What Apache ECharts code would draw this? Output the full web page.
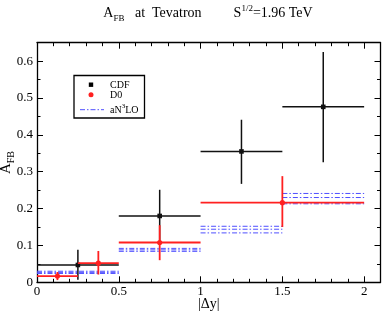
<!DOCTYPE html>
<html><head><meta charset="utf-8">
<script src="https://cdn.jsdelivr.net/npm/echarts@6/dist/echarts.min.js"></script>
<style>html,body{margin:0;padding:0;background:#fff}#c{width:382px;height:312px}</style>
</head><body><div id="c"></div>
<script>
const FONT = '"Liberation Serif", "DejaVu Serif", serif';

// CDF data
const cdfBinLo = [0, 0.5, 1.0, 1.5];
const cdfBinHi = [0.5, 1.0, 1.5, 2.0];
const cdfCenter = [0.25, 0.75, 1.25, 1.75];
const cdfValue = [0.047, 0.180, 0.355, 0.476];
const cdfLow = [0.007, 0.109, 0.267, 0.326];
const cdfHigh = [0.088, 0.251, 0.441, 0.625];

// D0 data
const d0BinLo = [0, 0.25, 0.5, 1.0];
const d0BinHi = [0.25, 0.5, 1.0, 2.0];
const d0Center = [0.125, 0.375, 0.75, 1.5];
const d0Value = [0.017, 0.052, 0.108, 0.216];
const d0Low = [0.006, 0.021, 0.060, 0.150];
const d0High = [0.028, 0.085, 0.155, 0.288];

// aN3LO theory band
const thBinLo = [0, 0.5, 1.0, 1.5];
const thBinHi = [0.5, 1.0, 1.5, 2.0];
const thLower = [0.024, 0.084, 0.134, 0.213];
const thCentral = [0.027, 0.088, 0.144, 0.230];
const thUpper = [0.030, 0.092, 0.152, 0.241];

const xTickLabels = ['0', '0.5', '1', '1.5', '2'];
const yTickLabels = ['0', '0.1', '0.2', '0.3', '0.4', '0.5', '0.6'];

const X_MIN = 0, X_MAX = 2.1, X_MAJOR = 0.5, X_MINOR = 0.1;
const Y_MIN = 0, Y_MAX = 0.65, Y_MAJOR = 0.1, Y_MINOR = 0.05;

function labelFrom(list, step) {
  return function (v) {
    const i = Math.round(v / step);
    if (Math.abs(v - i * step) > 1e-6 || i >= list.length) return '';
    return list[i];
  };
}

function errorBarItem(color, width, marker) {
  return function (params, api) {
    const xl = api.value(0), xh = api.value(1), xc = api.value(2);
    const y = api.value(3), yl = api.value(4), yh = api.value(5);
    const a = api.coord([xl, y]), b = api.coord([xh, y]);
    const c = api.coord([xc, y]), d = api.coord([xc, yl]), e = api.coord([xc, yh]);
    const st = { stroke: color, lineWidth: width };
    const children = [
      { type: 'line', shape: { x1: a[0], y1: a[1], x2: b[0], y2: b[1] }, style: st },
      { type: 'line', shape: { x1: d[0], y1: d[1], x2: e[0], y2: e[1] }, style: st }
    ];
    if (marker === 'rect') {
      children.push({ type: 'rect', shape: { x: c[0] - 2.3, y: c[1] - 2.3, width: 4.6, height: 4.6 }, style: { fill: color } });
    } else {
      children.push({ type: 'circle', shape: { cx: c[0], cy: c[1], r: 2.6 }, style: { fill: color } });
    }
    return { type: 'group', children: children };
  };
}

function bandItem(color) {
  return function (params, api) {
    const x0 = api.value(0), x1 = api.value(1);
    const children = [];
    [2, 3, 4].forEach(function (k) {
      const y = api.value(k);
      const p = api.coord([x0, y]), q = api.coord([x1, y]);
      children.push({ type: 'line', shape: { x1: p[0], y1: p[1], x2: q[0], y2: q[1] },
        style: { stroke: color, lineWidth: 1, lineDash: [5, 2, 1.5, 2] } });
    });
    return { type: 'group', children: children };
  };
}

const cdfData = cdfBinLo.map((lo, i) => [lo, cdfBinHi[i], cdfCenter[i], cdfValue[i], cdfLow[i], cdfHigh[i]]);
const d0Data = d0BinLo.map((lo, i) => [lo, d0BinHi[i], d0Center[i], d0Value[i], d0Low[i], d0High[i]]);
const thData = thBinLo.map((lo, i) => [lo, thBinHi[i], thLower[i], thCentral[i], thUpper[i]]);

function gridPos() { return { left: 37, right: 1.5, top: 42.7, bottom: 29.7, containLabel: false, outerBoundsMode: 'none' }; }
function axisLineStyle() { return { show: true, onZero: false, lineStyle: { color: '#000', width: 1.3 } }; }
function tickMajor() { return { show: true, inside: true, length: 6, lineStyle: { color: '#000', width: 1 } }; }
function tickMinor() { return { show: true, inside: false, length: -3.5, lineStyle: { color: '#000', width: 1 } }; }

function xAx(grid, pos, interval, major, labels) {
  const o = {
    type: 'value', gridIndex: grid, position: pos, min: X_MIN, max: X_MAX, interval: interval,
    axisLine: major ? axisLineStyle() : { show: false, onZero: false },
    axisTick: major ? tickMajor() : tickMinor(),
    splitLine: { show: false },
    axisLabel: { show: !!labels }
  };
  if (labels) {
    o.axisLabel = { show: true, margin: 3, color: '#000', fontFamily: FONT, fontSize: 13, formatter: labelFrom(xTickLabels, X_MAJOR) };
    o.name = '|\u0394y|';
    o.nameLocation = 'middle';
    o.nameGap = 15;
    o.nameMoveOverlap = false;
    o.nameTextStyle = { color: '#000', fontFamily: FONT, fontSize: 14 };
  }
  return o;
}
function yAx(grid, pos, interval, major, labels) {
  const o = {
    type: 'value', gridIndex: grid, position: pos, min: Y_MIN, max: Y_MAX, interval: interval,
    axisLine: major ? axisLineStyle() : { show: false, onZero: false },
    axisTick: major ? tickMajor() : tickMinor(),
    splitLine: { show: false },
    axisLabel: { show: !!labels }
  };
  if (labels) {
    o.axisLabel = { show: true, margin: 4, color: '#000', fontFamily: FONT, fontSize: 13, formatter: labelFrom(yTickLabels, Y_MAJOR) };
    o.name = '{a|A}{s|FB}';
    o.nameLocation = 'middle';
    o.nameGap = 21;
    o.nameMoveOverlap = false;
    o.nameTextStyle = { color: '#000', fontFamily: FONT, fontSize: 15,
      rich: { a: { fontFamily: FONT, fontSize: 15, color: '#000' },
              s: { fontFamily: FONT, fontSize: 10, color: '#000', padding: [10, 0, 0, 0] } } };
  }
  return o;
}

const chart = echarts.init(document.getElementById('c'), null, { renderer: 'canvas' });
chart.setOption({
  animation: false,
  backgroundColor: '#fff',
  grid: [gridPos(), gridPos()],
  xAxis: [
    xAx(0, 'bottom', X_MAJOR, true, true),
    xAx(0, 'top', X_MAJOR, true, false),
    xAx(1, 'bottom', X_MINOR, false, false),
    xAx(1, 'top', X_MINOR, false, false)
  ],
  yAxis: [
    yAx(0, 'left', Y_MAJOR, true, true),
    yAx(0, 'right', Y_MAJOR, true, false),
    yAx(1, 'left', Y_MINOR, false, false),
    yAx(1, 'right', Y_MINOR, false, false)
  ],
  series: [
    { type: 'custom', name: 'aN3LO', xAxisIndex: 0, yAxisIndex: 0, renderItem: bandItem('#4f4fff'),
      encode: { x: [0, 1], y: [2, 3, 4] }, data: thData, z: 2 },
    { type: 'custom', name: 'CDF', xAxisIndex: 0, yAxisIndex: 0, renderItem: errorBarItem('#111', 1.5, 'rect'),
      encode: { x: [0, 1, 2], y: [3, 4, 5] }, data: cdfData, z: 3 },
    { type: 'custom', name: 'D0', xAxisIndex: 0, yAxisIndex: 0, renderItem: errorBarItem('#ff2020', 1.8, 'circle'),
      encode: { x: [0, 1, 2], y: [3, 4, 5] }, data: d0Data, z: 4 }
  ],
  graphic: [
    { type: 'text', x: 208, y: 13.5, z: 10,
      style: { text: '{m|A}{s|FB}{m|   at  Tevatron}{g| }{m|S}{p|1/2}{m|=1.96 TeV}',
        align: 'center', verticalAlign: 'middle', fill: '#000', font: '14px ' + FONT,
        rich: {
          m: { fontFamily: FONT, fontSize: 14, fill: '#000' },
          s: { fontFamily: FONT, fontSize: 9, fill: '#000', padding: [11, 0, 0, 0] },
          p: { fontFamily: FONT, fontSize: 9, fill: '#000', padding: [0, 0, 10, 0] },
          g: { fontFamily: FONT, fontSize: 14, width: 32 }
        } } },
    { type: 'group', z: 10, children: [
      { type: 'rect', shape: { x: 74, y: 75.5, width: 70.5, height: 42.5 }, style: { fill: '#fff', stroke: '#000', lineWidth: 1.3 } },
      { type: 'rect', shape: { x: 88.8, y: 82.5, width: 4.4, height: 4.4 }, style: { fill: '#000' } },
      { type: 'circle', shape: { cx: 91, cy: 94.7, r: 2.5 }, style: { fill: '#ff2020' } },
      { type: 'line', shape: { x1: 80, y1: 109.7, x2: 104, y2: 109.7 }, style: { stroke: '#4f4fff', lineWidth: 1, lineDash: [5, 2, 1.5, 2] } },
      { type: 'text', x: 110, y: 85, style: { text: 'CDF', font: '10px ' + FONT, fill: '#000', verticalAlign: 'middle' } },
      { type: 'text', x: 110, y: 95.3, style: { text: 'D0', font: '10px ' + FONT, fill: '#000', verticalAlign: 'middle' } },
      { type: 'text', x: 110, y: 110, style: { text: '{m|aN}{p|3}{m|LO}', font: '10px ' + FONT, fill: '#000', verticalAlign: 'middle',
        rich: { m: { fontFamily: FONT, fontSize: 10, fill: '#000' },
                p: { fontFamily: FONT, fontSize: 7, fill: '#000', padding: [0, 0, 8, 0] } } } }
    ] }
  ]
});
</script>
</body></html>
